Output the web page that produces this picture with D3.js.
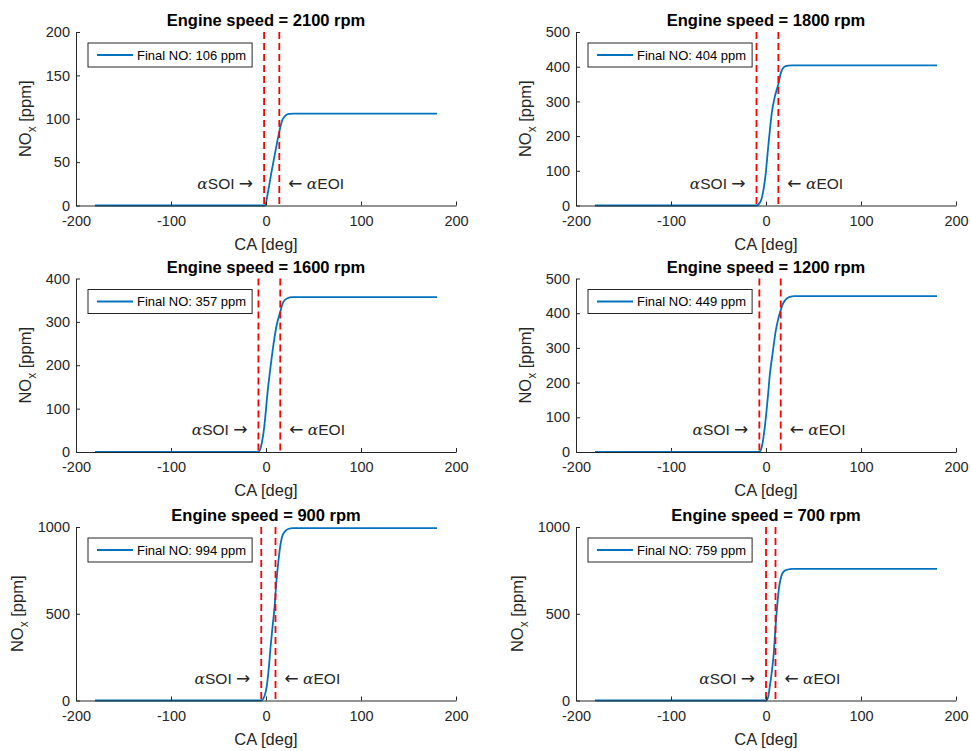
<!DOCTYPE html>
<html>
<head>
<meta charset="utf-8">
<script src="https://cdn.jsdelivr.net/npm/d3@7"></script>
<style>
  body { margin: 0; background: #fff; }
  svg text { font-family: "Liberation Sans", Arial, Helvetica, sans-serif; }
</style>
</head>
<body>
<svg id="fig" width="971" height="751"></svg>
<script>
// ---- data ----
var speeds   = [2100, 1800, 1600, 1200, 900, 700];
var finalNO  = [106, 404, 357, 449, 994, 759];
var soiCA    = [-2, -10, -8, -7, -5, 0];
var eoiCA    = [14, 13, 15, 15.5, 10, 10];
var yMaxes   = [200, 500, 400, 500, 1000, 1000];
var yTickStep = [50, 100, 100, 100, 500, 500];
var xTicks   = [-200, -100, 0, 100, 200];

// NOx history [CA deg, ppm] for each speed
var curve2100 = [[-180,0],[-1,0],[2,15],[6,40],[10,63],[13,80],[15,90],[17,98],[20,103],[24,105.5],[30,106],[180,106]];
var curve1800 = [[-180,0],[-10,0],[-6,10],[-3,40],[0,100],[2,160],[4,215],[6,265],[9,310],[13,350],[16,385],[19,399],[23,403],[28,404],[180,404]];
var curve1600 = [[-180,0],[-8,0],[-5,15],[-2,55],[2,145],[5,200],[8,250],[11,290],[15,323],[18,345],[22,354],[28,357],[180,357]];
var curve1200 = [[-180,0],[-7,0],[-4,20],[-1,78],[2,160],[4,222],[7,285],[10,345],[13,385],[15,404],[18,428],[21,440],[25,447],[30,449],[180,449]];
var curve900  = [[-180,0],[-5,0],[-2,20],[1,90],[3,190],[5,320],[7,430],[9,540],[11,690],[13,800],[15,890],[17,945],[20,975],[24,990],[28,994],[180,994]];
var curve700  = [[-180,0],[0,0],[2,15],[4,80],[6,160],[8,260],[10,420],[12,560],[14,660],[16,715],[19,745],[23,755],[28,759],[180,759]];
var curves = [curve2100, curve1800, curve1600, curve1200, curve900, curve700];

// ---- layout ----
var colLeft = [76, 576],
    rowTop = [32, 278.5, 527],
    plotW = 380,
    plotH = 173.5;

var axisColor = '#262626',
    lineColor = '#0072BD',
    markColor = '#FF0000';

var svg = d3.select('#fig');
var plain = function(d) { return String(d); };   // hyphen minus, no thousands comma

speeds.forEach(function(rpm, i) {
	var left = colLeft[i % 2],
	    top = rowTop[Math.floor(i / 2)];

	var x = d3.scaleLinear().domain([-200, 200]).range([0, plotW]);
	var y = d3.scaleLinear().domain([0, yMaxes[i]]).range([plotH, 0]);
	var yTicks = d3.range(0, yMaxes[i] + 1, yTickStep[i]);

	var g = svg.append('g').attr('transform', 'translate(' + left + ',' + top + ')');

	// curve
	g.append('path')
		.datum(curves[i])
		.attr('fill', 'none')
		.attr('stroke', lineColor)
		.attr('stroke-width', 1.8)
		.attr('stroke-linejoin', 'round')
		.attr('d', d3.line().curve(d3.curveMonotoneX)
			.x(function(d) { return x(d[0]); })
			.y(function(d) { return y(d[1]); }));

	// SOI / EOI markers
	[soiCA[i], eoiCA[i]].forEach(function(ca) {
		g.append('line')
			.attr('x1', x(ca)).attr('x2', x(ca))
			.attr('y1', 0).attr('y2', plotH)
			.attr('stroke', markColor)
			.attr('stroke-width', 1.8)
			.attr('stroke-dasharray', '7,4');
	});

	// axes (ticks pointing inward, box off)
	var xAxis = g.append('g')
		.attr('transform', 'translate(0,' + plotH + ')')
		.call(d3.axisBottom(x).tickValues(xTicks).tickFormat(plain).tickSizeInner(-4).tickSizeOuter(0).tickPadding(8));
	var yAxis = g.append('g')
		.call(d3.axisLeft(y).tickValues(yTicks).tickFormat(plain).tickSizeInner(-4).tickSizeOuter(0).tickPadding(6));
	[xAxis, yAxis].forEach(function(a) {
		a.select('.domain').attr('stroke', axisColor).attr('stroke-width', 1);
		a.selectAll('.tick line').attr('stroke', axisColor);
		a.selectAll('.tick text')
			.attr('fill', axisColor)
			.style('font-size', '14.5px')
			.style('font-family', '"Liberation Sans", Arial, sans-serif');
	});
	xAxis.selectAll('.tick text').attr('dy', '0.85em');

	// title
	g.append('text')
		.attr('x', plotW / 2)
		.attr('y', -6)
		.attr('text-anchor', 'middle')
		.style('font-size', '16.5px')
		.style('font-weight', 'bold')
		.attr('fill', '#000')
		.text('Engine speed = ' + rpm + ' rpm');

	// x label
	g.append('text')
		.attr('x', plotW / 2)
		.attr('y', plotH + 44)
		.attr('text-anchor', 'middle')
		.style('font-size', '16.5px')
		.attr('fill', axisColor)
		.text('CA [deg]');

	// y label, placed left of the widest tick label
	var labW = d3.max(yAxis.selectAll('.tick text').nodes(), function(n) { return n.getBBox().width; });
	var yl = g.append('text')
		.attr('transform', 'translate(' + (-10 - labW - 11) + ',' + (plotH / 2) + ') rotate(-90)')
		.attr('text-anchor', 'middle')
		.style('font-size', '16.5px')
		.attr('fill', axisColor);
	yl.append('tspan').text('NO');
	yl.append('tspan').attr('dy', 5).style('font-size', '12px').text('x');
	yl.append('tspan').attr('dy', -5).text(' [ppm]');

	// SOI / EOI annotations
	var annY = plotH - 17;
	var soiT = g.append('text')
		.attr('x', x(soiCA[i]) - 11)
		.attr('y', annY)
		.attr('text-anchor', 'end')
		.style('font-size', '15.5px')
		.attr('fill', axisColor);
	soiT.append('tspan').style('font-family', '"DejaVu Serif", serif').style('font-style', 'italic').text('\u03b1');
	soiT.append('tspan').text('SOI ');
	soiT.append('tspan').style('font-family', '"DejaVu Sans", sans-serif').style('font-size', '17px').text('\u2192');

	var eoiT = g.append('text')
		.attr('x', x(eoiCA[i]) + 9)
		.attr('y', annY)
		.attr('text-anchor', 'start')
		.style('font-size', '15.5px')
		.attr('fill', axisColor);
	eoiT.append('tspan').style('font-family', '"DejaVu Sans", sans-serif').style('font-size', '17px').text('\u2190');
	eoiT.append('tspan').text(' ');
	eoiT.append('tspan').style('font-family', '"DejaVu Serif", serif').style('font-style', 'italic').text('\u03b1');
	eoiT.append('tspan').text('EOI');

	// legend
	var leg = g.append('g').attr('transform', 'translate(12,11)');
	var legRect = leg.append('rect')
		.attr('fill', '#fff')
		.attr('stroke', axisColor)
		.attr('stroke-width', 1);
	leg.append('line')
		.attr('x1', 9).attr('x2', 45)
		.attr('y1', 12).attr('y2', 12)
		.attr('stroke', lineColor)
		.attr('stroke-width', 1.8);
	var legText = leg.append('text')
		.attr('x', 49)
		.attr('y', 16.5)
		.style('font-size', '13px')
		.attr('fill', '#000')
		.text('Final NO: ' + finalNO[i] + ' ppm');
	var tw = legText.node().getBBox().width;
	legRect.attr('width', 49 + tw + 6).attr('height', 24);
});
</script>
</body>
</html>
